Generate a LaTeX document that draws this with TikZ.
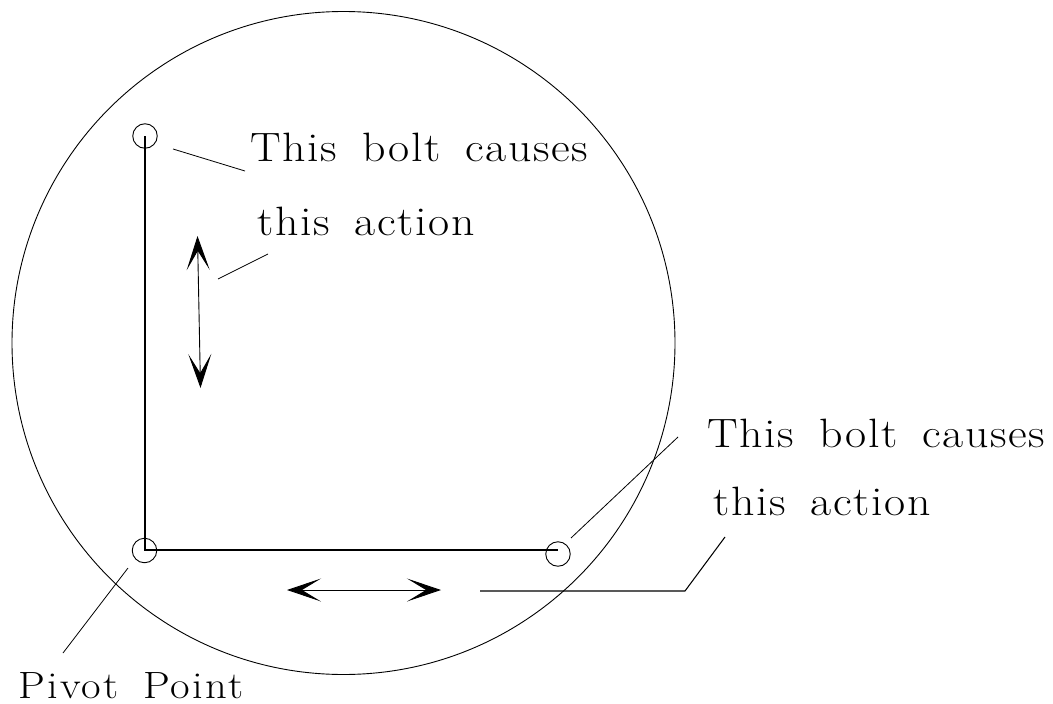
\documentclass[tikz,border=0pt]{standalone}
\usepackage{fontspec}
\usetikzlibrary{arrows.meta}
\defaultfontfeatures{Ligatures=NoCommon}
\newfontfamily\cadfont[FakeStretch=1.12,LetterSpace=4,WordSpace=1.6]{Latin Modern Roman}
\newfontfamily\cadpivot[FakeStretch=1.12,LetterSpace=6,WordSpace=1.6]{Latin Modern Roman}
\tikzset{
  ln/.style={line width=1.05pt,black},
  thinln/.style={line width=0.8pt,black},
  bolt/.style={circle,draw,line width=0.9pt,minimum size=24.5pt,inner sep=0pt},
  lbl/.style={anchor=base west,inner sep=0pt,font=\cadfont\fontsize{41}{41}\selectfont},
  pivotlbl/.style={anchor=base west,inner sep=0pt,font=\cadpivot\fontsize{38}{38}\selectfont},
  dbl/.style={line width=0.9pt,{Stealth[length=34pt,width=23pt,inset=19pt]}-{Stealth[length=34pt,width=23pt,inset=19pt]},shorten <=0pt,shorten >=0pt}
}
\begin{document}
\begin{tikzpicture}[x=1pt,y=-1pt]
\useasboundingbox (0,0) rectangle (1053,704);
\node[circle,draw,line width=0.9pt,minimum size=663pt,inner sep=0pt] (disc) at (343.5,343) {};
\node[bolt] (top) at (145,136) {};
\node[bolt] (pivot) at (144.5,550.5) {};
\node[bolt] (right) at (558,554) {};
\coordinate (topc) at (145,136);
\coordinate (corner) at (145,550);
\coordinate (rightc) at (558,550);
\draw[ln] (topc) -- (corner) -- (rightc);
\node[lbl] (t1) at (250,161) {This bolt causes};
\node[lbl] (t2) at (257,235) {this action};
\node[lbl] (t3) at (707,447) {This bolt causes};
\node[lbl] (t4) at (713,515) {this action};
\node[pivotlbl] (t5) at (18,698) {Pivot Point};
\coordinate (a1) at (173,149); \coordinate (a2) at (245,171);
\draw[thinln] (a1) -- (a2);
\coordinate (b1) at (218,279); \coordinate (b2) at (268,254);
\draw[thinln] (b1) -- (b2);
\coordinate (c1) at (128,568); \coordinate (c2) at (63,653);
\draw[thinln] (c1) -- (c2);
\coordinate (d1) at (571,538); \coordinate (d2) at (678,437);
\draw[thinln] (d1) -- (d2);
\coordinate (e1) at (480,591); \coordinate (e2) at (685,591); \coordinate (e3) at (725,537);
\draw[ln] (e1) -- (e2) -- (e3);
\coordinate (v1) at (197.5,236); \coordinate (v2) at (200.5,388);
\draw[dbl] (v1) -- (v2);
\coordinate (h1) at (287,590); \coordinate (h2) at (441,590);
\draw[dbl] (h1) -- (h2);
\end{tikzpicture}
\end{document}
